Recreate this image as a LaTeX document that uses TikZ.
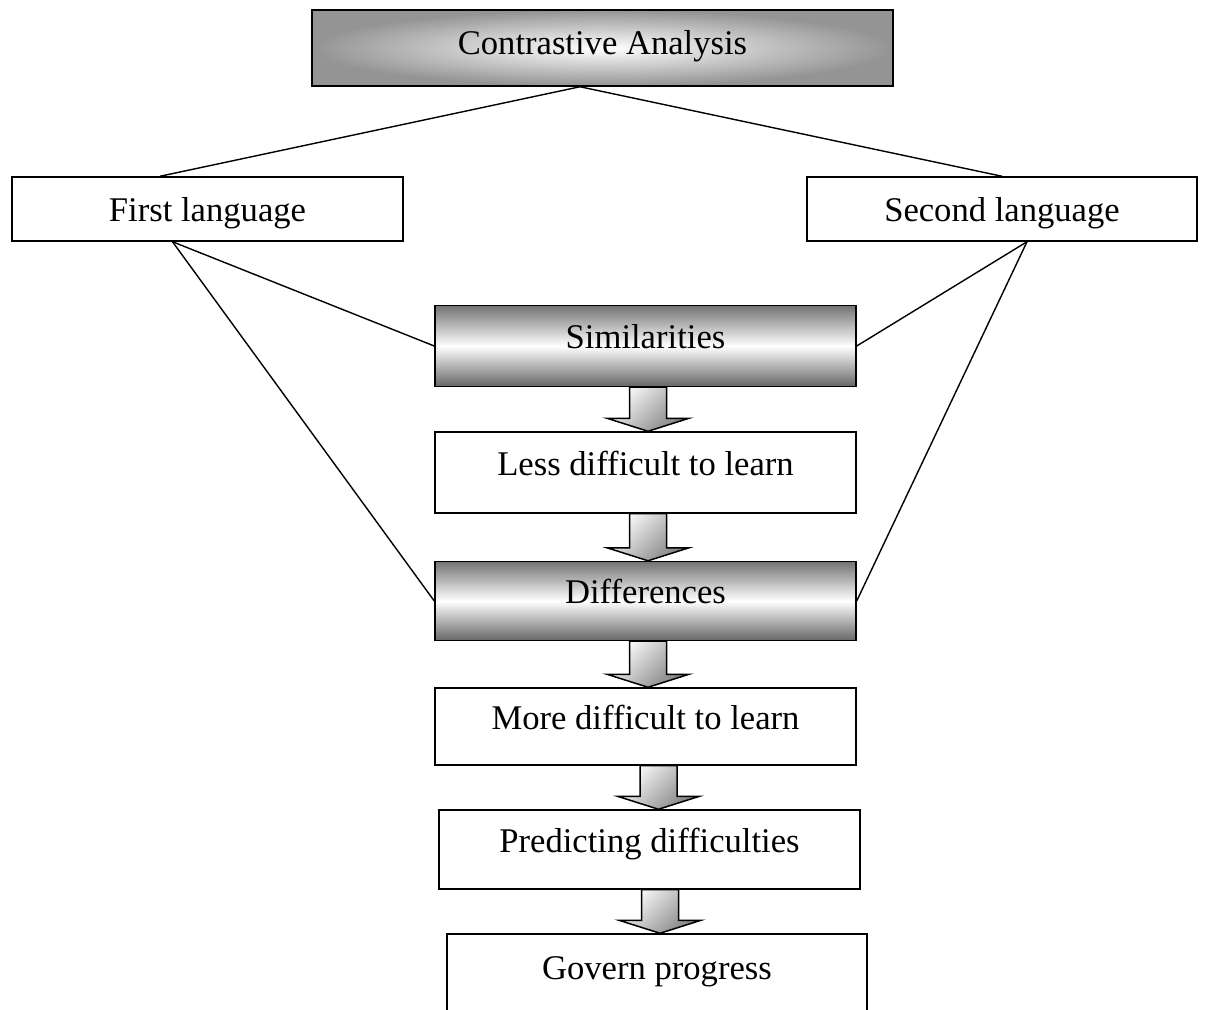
\documentclass[tikz,border=0pt]{standalone}
\usepackage{fontspec}
\setmainfont{Liberation Serif}
\usetikzlibrary{calc,positioning}

\tikzset{
  basebox/.style={draw, line width=0.85pt, inner sep=0pt, text height=14pt, text depth=11pt,
    font=\fontsize{19.7}{24}\selectfont},
  plainbox/.style={basebox, fill=white},
  langbox/.style={plainbox, text height=17pt, text depth=2.7pt},
  shadebox/.style={basebox, top color=black!55, bottom color=black!60, middle color=white},
  titlebox/.style={basebox, inner color=white, outer color=black!42, text height=16pt, text depth=8.5pt},
  arrowfill/.style={draw, line width=0.85pt, top color=white, bottom color=black!50, shading angle=45},
  link/.style={line width=0.8pt}
}

% block arrow: from node, to node, x offset of the shaft (px)
\newcommand{\blockarrow}[3]{%
  \path ($(#1.south)+(#3,0)$) coordinate (s) (s |- #2.north) coordinate (t);
  \draw[arrowfill] ($(s)+(-18.5,0)$) -- ($(t)+(-18.5,-13)$) -- ($(t)+(-41,-13)$) -- (t)
    -- ($(t)+(41,-13)$) -- ($(t)+(18.5,-13)$) -- ($(s)+(18.5,0)$) -- cycle;}

\begin{document}
\begin{tikzpicture}[x=0.02cm, y=-0.02cm]
\useasboundingbox (0,0) rectangle (1205,1009);

\node[titlebox, minimum width=11.62cm, minimum height=1.52cm] (ca) at (602.5,48) {Contrastive Analysis};
\node[langbox, minimum width=7.82cm, minimum height=1.28cm] (fl) at (207.5,209) {First language};
\node[langbox, minimum width=7.8cm, minimum height=1.28cm] (sl) at (1002,209) {Second language};

\node[shadebox, minimum width=8.42cm, minimum height=1.62cm] (sim) at (645.5,346) {Similarities};
\node[plainbox, minimum width=8.42cm, minimum height=1.62cm] (less) at (645.5,472.5) {Less difficult to learn};
\node[shadebox, minimum width=8.42cm, minimum height=1.58cm] (diff) at (645.5,601) {Differences};
\node[plainbox, minimum width=8.42cm, minimum height=1.54cm] (more) at (645.5,726.5) {More difficult to learn};
\node[plainbox, minimum width=8.42cm, minimum height=1.58cm] (pred) at (649.5,849.5) {Predicting difficulties};
\node[plainbox, minimum width=8.4cm, minimum height=1.72cm] (gov) at (657,977) {Govern progress};

% branches
\draw[link] ([xshift=-0.45cm]ca.south) -- ([xshift=-0.95cm]fl.north);
\draw[link] ([xshift=-0.45cm]ca.south) -- (sl.north);
\draw[link] ([xshift=-0.7cm]fl.south) -- (sim.west);
\draw[link] ([xshift=-0.7cm]fl.south) -- (diff.west);
\draw[link] ([xshift=0.5cm]sl.south) -- (sim.east);
\draw[link] ([xshift=0.5cm]sl.south) -- (diff.east);

% down arrows
\blockarrow{sim}{less}{2.5}
\blockarrow{less}{diff}{2.5}
\blockarrow{diff}{more}{2.5}
\blockarrow{more}{pred}{13}
\blockarrow{pred}{gov}{10.5}
\end{tikzpicture}
\end{document}
